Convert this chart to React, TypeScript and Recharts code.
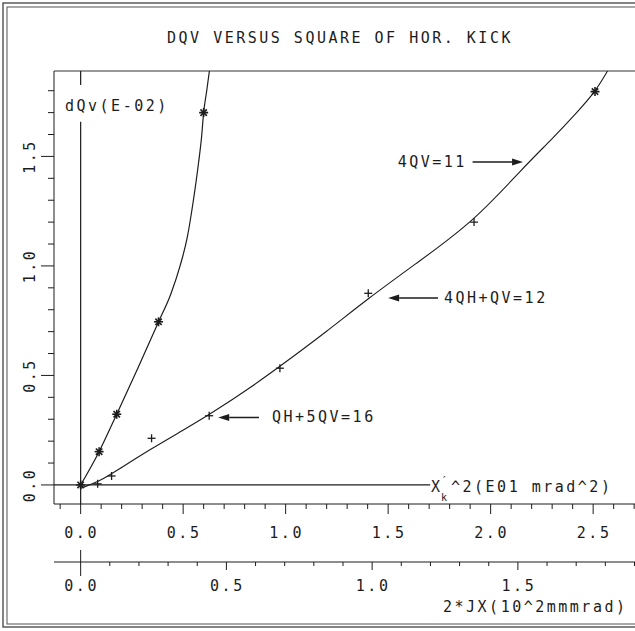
import React from 'react';
import { ComposedChart, Line, Scatter, XAxis, YAxis, ReferenceLine } from 'recharts';

// ---------- axis domains ----------
const X_MIN = -0.13;
const X_MAX = 3.0;
const Y_MIN = -0.087;
const Y_MAX = 1.89;
const JX_MIN = -0.0914;
const JX_MAX = 2.1098;

// ---------- ticks ----------
const xTicks = [-0.1, 0, 0.1, 0.2, 0.3, 0.4, 0.5, 0.6, 0.7, 0.8, 0.9, 1.0, 1.1, 1.2, 1.3, 1.4, 1.5, 1.6, 1.7, 1.8, 1.9, 2.0, 2.1, 2.2, 2.3, 2.4, 2.5, 2.6, 2.7, 2.8, 2.9];
const xTickLabels = ['0.0', '0.5', '1.0', '1.5', '2.0', '2.5'];
const yTicks = [0, 0.1, 0.2, 0.3, 0.4, 0.5, 0.6, 0.7, 0.8, 0.9, 1.0, 1.1, 1.2, 1.3, 1.4, 1.5, 1.6, 1.7, 1.8];
const yTickLabels = ['0.0', '0.5', '1.0', '1.5'];
const jxTicks = [0, 0.1, 0.2, 0.3, 0.4, 0.5, 0.6, 0.7, 0.8, 0.9, 1.0, 1.1, 1.2, 1.3, 1.4, 1.5, 1.6, 1.7, 1.8, 1.9, 2.0, 2.1];
const jxTickLabels = ['0.0', '0.5', '1.0', '1.5'];
const jxRange = [{ x: 0, y: 0 }, { x: 2.0, y: 0 }];

// ---------- measured points ----------
const steepPoints = [
  { x: 0, y: 0 },
  { x: 0.09, y: 0.152 },
  { x: 0.176, y: 0.323 },
  { x: 0.38, y: 0.745 },
  { x: 0.6, y: 1.7 },
];
const flatPoints = [
  { x: 0.083, y: 0.005 },
  { x: 0.151, y: 0.041 },
  { x: 0.346, y: 0.213 },
  { x: 0.627, y: 0.316 },
  { x: 0.972, y: 0.533 },
  { x: 1.403, y: 0.875 },
  { x: 1.919, y: 1.2 },
];
const flatStarPoints = [{ x: 2.509, y: 1.796 }];

// ---------- fitted curves ----------
const steepCurve = [
  { x: 0, y: 0 },
  { x: 0.09, y: 0.152 },
  { x: 0.176, y: 0.323 },
  { x: 0.28, y: 0.535 },
  { x: 0.38, y: 0.745 },
  { x: 0.44, y: 0.872 },
  { x: 0.485, y: 1.0 },
  { x: 0.52, y: 1.13 },
  { x: 0.55, y: 1.3 },
  { x: 0.575, y: 1.47 },
  { x: 0.59, y: 1.59 },
  { x: 0.6, y: 1.7 },
  { x: 0.615, y: 1.8 },
  { x: 0.628, y: 1.89 },
];
const flatCurve = [
  { x: 0, y: -0.015 },
  { x: 0.09, y: 0.015 },
  { x: 0.18, y: 0.068 },
  { x: 0.34, y: 0.163 },
  { x: 0.5, y: 0.25 },
  { x: 0.63, y: 0.322 },
  { x: 0.83, y: 0.445 },
  { x: 0.97, y: 0.54 },
  { x: 1.2, y: 0.7 },
  { x: 1.4, y: 0.85 },
  { x: 1.65, y: 1.02 },
  { x: 1.92, y: 1.205 },
  { x: 2.16, y: 1.45 },
  { x: 2.3, y: 1.58 },
  { x: 2.42, y: 1.7 },
  { x: 2.51, y: 1.795 },
  { x: 2.57, y: 1.89 },
];

// ---------- annotations (arrow start x, tip x, y, text x, label) ----------
const annotations = [
  { from: 1.912, to: 2.158, y: 1.475, textX: 1.884, text: '4QV=11' },
  { from: 1.743, to: 1.5, y: 0.854, textX: 1.772, text: '4QH+QV=12' },
  { from: 0.87, to: 0.671, y: 0.308, textX: 0.933, text: 'QH+5QV=16' },
];

const INK = '#1c1c1c';
const FONT = '"DejaVu Sans Mono", monospace';
const textStyle: React.CSSProperties = { fontFamily: FONT, fontSize: 15, letterSpacing: 2.5 };

const isMajor = (v: number) => Math.abs(v * 2 - Math.round(v * 2)) < 1e-6;
const labelFor = (v: number, labels: string[]) => {
  const i = Math.round(v * 2);
  return i >= 0 && i < labels.length ? labels[i] : null;
};

const XTick = (props: any) => {
  const { x, y, payload } = props;
  const v = payload.value;
  const major = isMajor(v);
  const lab = major ? labelFor(v, xTickLabels) : null;
  return (
    <g>
      <line x1={x} y1={y} x2={x} y2={y + (major ? 10 : 5)} stroke={INK} strokeWidth={1} />
      {lab && (
        <text x={x + 1} y={y + 33.5} textAnchor="middle" fill={INK} style={textStyle}>
          {lab}
        </text>
      )}
    </g>
  );
};

const YTick = (props: any) => {
  const { x, y, payload } = props;
  const v = payload.value;
  const major = isMajor(v);
  const lab = major ? labelFor(v, yTickLabels) : null;
  const lx = x - 24;
  return (
    <g>
      <line x1={x - (major ? 13 : 6)} y1={y} x2={x} y2={y} stroke={INK} strokeWidth={1} />
      {lab && (
        <text
          x={lx}
          y={y}
          textAnchor="middle"
          dominantBaseline="central"
          transform={`rotate(-90, ${lx}, ${y})`}
          fill={INK}
          style={textStyle}
        >
          {lab}
        </text>
      )}
    </g>
  );
};

const JxTick = (props: any) => {
  const { x, y, payload } = props;
  const v = payload.value;
  const major = isMajor(v);
  const lab = major ? labelFor(v, jxTickLabels) : null;
  const isZero = Math.abs(v) < 1e-6;
  return (
    <g>
      <line
        x1={x}
        y1={isZero ? y - 12 : y}
        x2={x}
        y2={y + (isZero ? 14 : major ? 8 : 4)}
        stroke={INK}
        strokeWidth={1}
      />
      {lab && (
        <text x={x + 1} y={y + 28.5} textAnchor="middle" fill={INK} style={textStyle}>
          {lab}
        </text>
      )}
    </g>
  );
};

const Asterisk = (props: any) => {
  const { cx, cy } = props;
  if (cx == null || cy == null) return <g />;
  const r = 4.5;
  const d = 3.2;
  return (
    <g stroke={INK} strokeWidth={1.6}>
      <line x1={cx} y1={cy - r} x2={cx} y2={cy + r} />
      <line x1={cx - r} y1={cy} x2={cx + r} y2={cy} />
      <line x1={cx - d} y1={cy - d} x2={cx + d} y2={cy + d} />
      <line x1={cx - d} y1={cy + d} x2={cx + d} y2={cy - d} />
    </g>
  );
};

const Plus = (props: any) => {
  const { cx, cy } = props;
  if (cx == null || cy == null) return <g />;
  const r = 4;
  return (
    <g stroke={INK} strokeWidth={1.3}>
      <line x1={cx} y1={cy - r} x2={cx} y2={cy + r} />
      <line x1={cx - r} y1={cy} x2={cx + r} y2={cy} />
    </g>
  );
};

const Nothing = () => <g />;

const makeArrow = (text: string, textOffset: number, span: number) => (props: any) => {
  const { x1, y1, x2, y2 } = props;
  if (x1 == null || x2 == null) return <g />;
  const dir = x2 > x1 ? 1 : -1;
  const hl = 11;
  const hh = 3.5;
  const bx = x2 - dir * hl;
  const pxPerUnit = Math.abs(x2 - x1) / Math.abs(span || 1);
  const textX = x1 + textOffset * pxPerUnit;
  return (
    <g>
      <line x1={x1} y1={y1} x2={bx} y2={y2} stroke={INK} strokeWidth={1.5} />
      <polygon points={`${x2},${y2} ${bx},${y2 - hh} ${bx},${y2 + hh}`} fill={INK} />
      <text
        x={textX}
        y={y1}
        dominantBaseline="central"
        textAnchor={dir > 0 ? 'end' : 'start'}
        fill={INK}
        style={textStyle}
      >
        {text}
      </text>
    </g>
  );
};

export default function App() {
  return (
    <div
      style={{
        position: 'fixed',
        left: 0,
        top: 0,
        width: 635,
        height: 631,
        overflow: 'hidden',
        background: '#fff',
      }}
    >
      <div style={{ position: 'absolute', left: 0, top: 0 }}>
        <ComposedChart
          width={700}
          height={631}
          margin={{ top: 71, right: 4.35, bottom: 9, left: 24 }}
        >
          <XAxis
            xAxisId="b"
            type="number"
            dataKey="x"
            domain={[JX_MIN, JX_MAX]}
            allowDataOverflow
            ticks={jxTicks}
            interval={0}
            height={60}
            tickSize={0}
            tickMargin={0}
            tickLine={false}
            axisLine={{ stroke: INK, strokeWidth: 1 }}
            tick={<JxTick />}
          />
          <XAxis
            xAxisId="a"
            type="number"
            dataKey="x"
            domain={[X_MIN, X_MAX]}
            allowDataOverflow
            ticks={xTicks}
            interval={0}
            height={58}
            tickSize={0}
            tickMargin={0}
            tickLine={false}
            axisLine={{ stroke: INK, strokeWidth: 1 }}
            tick={<XTick />}
          />
          <YAxis
            type="number"
            dataKey="y"
            domain={[Y_MIN, Y_MAX]}
            allowDataOverflow
            ticks={yTicks}
            interval={0}
            width={30}
            tickSize={0}
            tickMargin={0}
            tickLine={false}
            axisLine={{ stroke: INK, strokeWidth: 1 }}
            tick={<YTick />}
          />
          {/* invisible anchor so the 2*JX axis gets its ticks */}
          <Scatter xAxisId="b" data={jxRange} dataKey="y" shape={<Nothing />} isAnimationActive={false} />
          {/* plot frame top */}
          <ReferenceLine xAxisId="a" y={Y_MAX} stroke="#333" strokeWidth={1} ifOverflow="visible" />
          {/* zero axes */}
          <ReferenceLine
            xAxisId="a"
            segment={[{ x: X_MIN, y: 0 }, { x: 1.705, y: 0 }]}
            stroke={INK}
            strokeWidth={1.2}
            ifOverflow="visible"
          />
          <ReferenceLine
            xAxisId="a"
            segment={[{ x: 0, y: Y_MAX }, { x: 0, y: 1.826 }]}
            stroke={INK}
            strokeWidth={1.2}
            ifOverflow="visible"
          />
          <ReferenceLine
            xAxisId="a"
            segment={[{ x: 0, y: 1.658 }, { x: 0, y: Y_MIN }]}
            stroke={INK}
            strokeWidth={1.2}
            ifOverflow="visible"
          />
          <Line
            xAxisId="a"
            data={steepCurve}
            dataKey="y"
            type="monotone"
            stroke={INK}
            strokeWidth={1.2}
            dot={false}
            isAnimationActive={false}
          />
          <Line
            xAxisId="a"
            data={flatCurve}
            dataKey="y"
            type="basis"
            stroke={INK}
            strokeWidth={1.1}
            dot={false}
            isAnimationActive={false}
          />
          <Scatter xAxisId="a" data={steepPoints} dataKey="y" shape={<Asterisk />} isAnimationActive={false} />
          <Scatter xAxisId="a" data={flatPoints} dataKey="y" shape={<Plus />} isAnimationActive={false} />
          <Scatter xAxisId="a" data={flatStarPoints} dataKey="y" shape={<Asterisk />} isAnimationActive={false} />
          {annotations.map((a) => (
            <ReferenceLine
              key={a.text}
              xAxisId="a"
              segment={[{ x: a.from, y: a.y }, { x: a.to, y: a.y }]}
              ifOverflow="visible"
              shape={makeArrow(a.text, a.textX - a.from, a.to - a.from)}
            />
          ))}
        </ComposedChart>
      </div>
      <svg
        width={635}
        height={631}
        style={{ position: 'absolute', left: 0, top: 0, pointerEvents: 'none' }}
      >
        {/* outer double frame */}
        <rect x={3} y={3} width={700} height={624} fill="none" stroke="#333" strokeWidth={1.2} />
        <rect x={7} y={7} width={700} height={617} fill="none" stroke="#555" strokeWidth={1} />
        <text x={340} y={43} textAnchor="middle" fill={INK} style={textStyle}>
          DQV VERSUS SQUARE OF HOR. KICK
        </text>
        <rect x={64} y={92} width={106} height={28} fill="#fff" />
        <text x={65} y={110.5} fill={INK} style={textStyle}>
          dQv(E-02)
        </text>
        <text x={431} y={492} fill={INK} style={textStyle}>
          X
        </text>
        <text x={441} y={484} fill={INK} style={{ ...textStyle, fontSize: 11 }}>
          ′
        </text>
        <text x={441} y={501} fill={INK} style={{ ...textStyle, fontSize: 10, letterSpacing: 0 }}>
          k
        </text>
        <text x={451} y={492} fill={INK} style={textStyle}>
          ^2(E01 mrad^2)
        </text>
        <text x={443} y={612} fill={INK} style={textStyle}>
          2*JX(10^2mmmrad)
        </text>
      </svg>
    </div>
  );
}
